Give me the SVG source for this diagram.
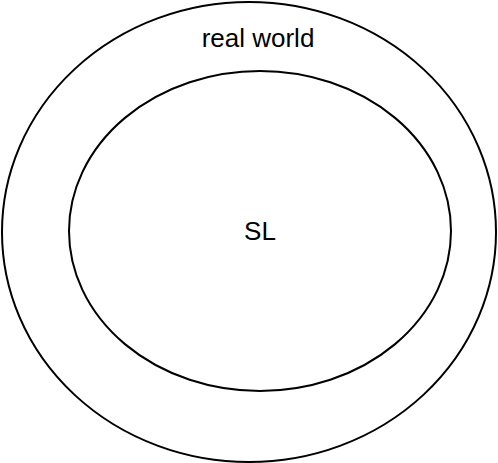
<svg xmlns="http://www.w3.org/2000/svg" width="498" height="463" viewBox="0 0 498 463">
<style>
.ring{fill:none;stroke:#000;stroke-width:2}
.lbl{font-family:"Liberation Sans","Open Sans",sans-serif;font-size:26px;fill:#000;text-anchor:middle}
</style>
<rect width="498" height="463" fill="#fff"/>
<g id="real-world">
<ellipse class="ring" cx="249" cy="232" rx="247" ry="230"/>
<text class="lbl" x="258" y="47">real world</text>
</g>
<g id="SL">
<ellipse class="ring" cx="260" cy="231" rx="191" ry="160"/>
<text class="lbl" x="260" y="240">SL</text>
</g>
<g id="connectors"/>
</svg>
